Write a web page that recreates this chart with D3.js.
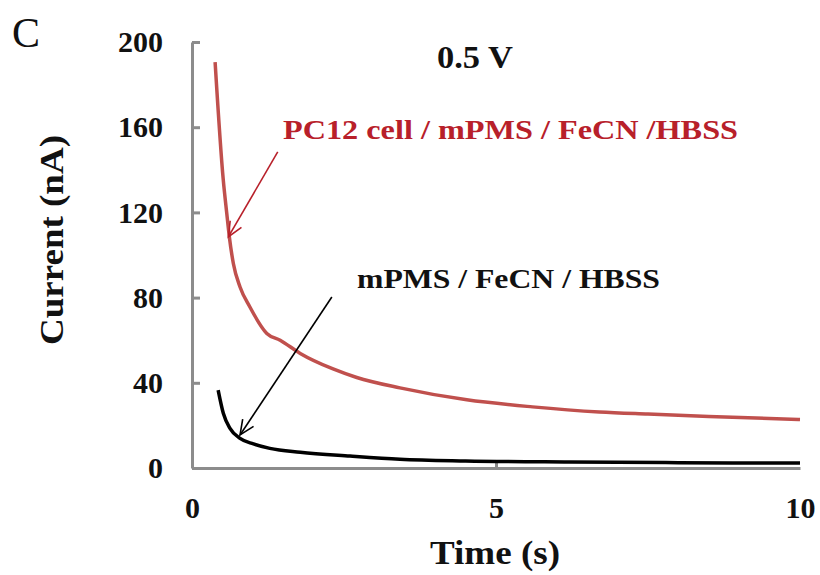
<!DOCTYPE html>
<html>
<head>
<meta charset="utf-8">
<script src="https://cdn.jsdelivr.net/npm/d3@7"></script>
<style>
  html, body { margin: 0; padding: 0; background: #fff; }
  svg { display: block; font-family: "Liberation Serif", "Times New Roman", serif; }
</style>
</head>
<body>
<svg id="chart" width="820" height="575"></svg>
<script>
// Chronoamperometry at 0.5 V: current decay over time
const cellTime    = [0.38, 0.515, 0.57, 0.614, 0.68, 0.79, 0.95, 1.23, 1.45, 1.78, 2.32, 2.71, 3.42, 4.52, 5.6, 6.7, 7.5, 8.5, 10.0];
const cellCurrent = [190.6, 135, 120, 108.6, 96, 85, 75.7, 63.2, 60, 53.8, 46.5, 42.5, 37.6, 32, 28.7, 26.3, 25.3, 24.2, 22.8];

const blankTime    = [0.43, 0.515, 0.625, 0.79, 1.01, 1.28, 1.78, 2.6, 3.42, 4.5, 6.2, 8.0, 10.0];
const blankCurrent = [36.6, 25.7, 18.6, 13.9, 11.3, 9.2, 7.4, 5.6, 4.1, 3.3, 2.8, 2.5, 2.3];

const xTicks = [0, 5, 10];
const yTicks = [0, 40, 80, 120, 160, 200];

// Annotation arrows: [tailTime, tailCurrent, tipTime, tipCurrent]
const cellArrow  = [1.41, 148.4, 0.6, 108.6];
const blankArrow = [2.30, 80.3, 0.79, 15.5];

const svg = d3.select("#chart");
const x = d3.scaleLinear().domain([0, 10]).range([192, 800]);
const y = d3.scaleLinear().domain([0, 200]).range([468, 42]);

const axisColor = "#8c8c8c";

// Axes with inward ticks
const yAxis = svg.append("g").attr("transform", `translate(${x(0)},0)`)
  .call(d3.axisLeft(y).tickValues(yTicks).tickSize(-8).tickPadding(29).tickSizeOuter(0));
const xAxis = svg.append("g").attr("transform", `translate(0,${y(0)})`)
  .call(d3.axisBottom(x).tickValues(xTicks).tickSize(-8).tickPadding(29).tickSizeOuter(0));

[yAxis, xAxis].forEach(g => {
  g.select(".domain").attr("stroke", axisColor).attr("stroke-width", 3);
  g.selectAll(".tick line").attr("stroke", axisColor).attr("stroke-width", 3);
  g.selectAll(".tick text")
    .attr("fill", "#111").attr("font-size", 30).attr("font-weight", "bold")
    .attr("font-family", "Liberation Serif, serif");
});
xAxis.selectAll(".tick").filter(d => d !== 5).select("line").remove();

// Curves
const line = d3.line().x(d => x(d[0])).y(d => y(d[1])).curve(d3.curveMonotoneX);
svg.append("path")
  .datum(cellTime.map((t, i) => [t, cellCurrent[i]]))
  .attr("d", line).attr("fill", "none")
  .attr("stroke", "#c0504d").attr("stroke-width", 3.5);
svg.append("path")
  .datum(blankTime.map((t, i) => [t, blankCurrent[i]]))
  .attr("d", line).attr("fill", "none")
  .attr("stroke", "#000").attr("stroke-width", 3.5);

// Arrows with open heads
function arrow(a, color) {
  const x1 = x(a[0]), y1 = y(a[1]), x2 = x(a[2]), y2 = y(a[3]);
  const ang = Math.atan2(y2 - y1, x2 - x1);
  const len = 16, spread = 0.42;
  svg.append("line").attr("x1", x1).attr("y1", y1).attr("x2", x2).attr("y2", y2)
    .attr("stroke", color).attr("stroke-width", 1.6);
  const pts = [
    [x2 - len * Math.cos(ang - spread), y2 - len * Math.sin(ang - spread)],
    [x2, y2],
    [x2 - len * Math.cos(ang + spread), y2 - len * Math.sin(ang + spread)]
  ];
  svg.append("path").attr("d", d3.line()(pts)).attr("fill", "none")
    .attr("stroke", color).attr("stroke-width", 1.6);
}
arrow(cellArrow, "#b8202a");
arrow(blankArrow, "#000");

// Labels
function label(txt, px, py, size, width, color, anchor) {
  return svg.append("text").attr("x", px).attr("y", py)
    .attr("text-anchor", anchor || "start")
    .attr("fill", color).attr("font-size", size).attr("font-weight", "bold")
    .attr("textLength", width).attr("lengthAdjust", "spacingAndGlyphs")
    .text(txt);
}
label("PC12 cell / mPMS / FeCN /HBSS", 283, 139, 27, 455, "#b8202a");
label("mPMS / FeCN / HBSS", 357, 288, 27, 303, "#111");
label("0.5 V", 437, 68, 32, 76, "#111");
label("Time (s)", 430, 564, 34, 130, "#111");

svg.append("text").attr("transform", "translate(63,345) rotate(-90)")
  .attr("fill", "#111").attr("font-size", 34).attr("font-weight", "bold")
  .attr("textLength", 210).attr("lengthAdjust", "spacingAndGlyphs")
  .text("Current (nA)");

svg.append("text").attr("x", 12).attr("y", 47)
  .attr("fill", "#111").attr("font-size", 42)
  .text("C");
</script>
</body>
</html>
